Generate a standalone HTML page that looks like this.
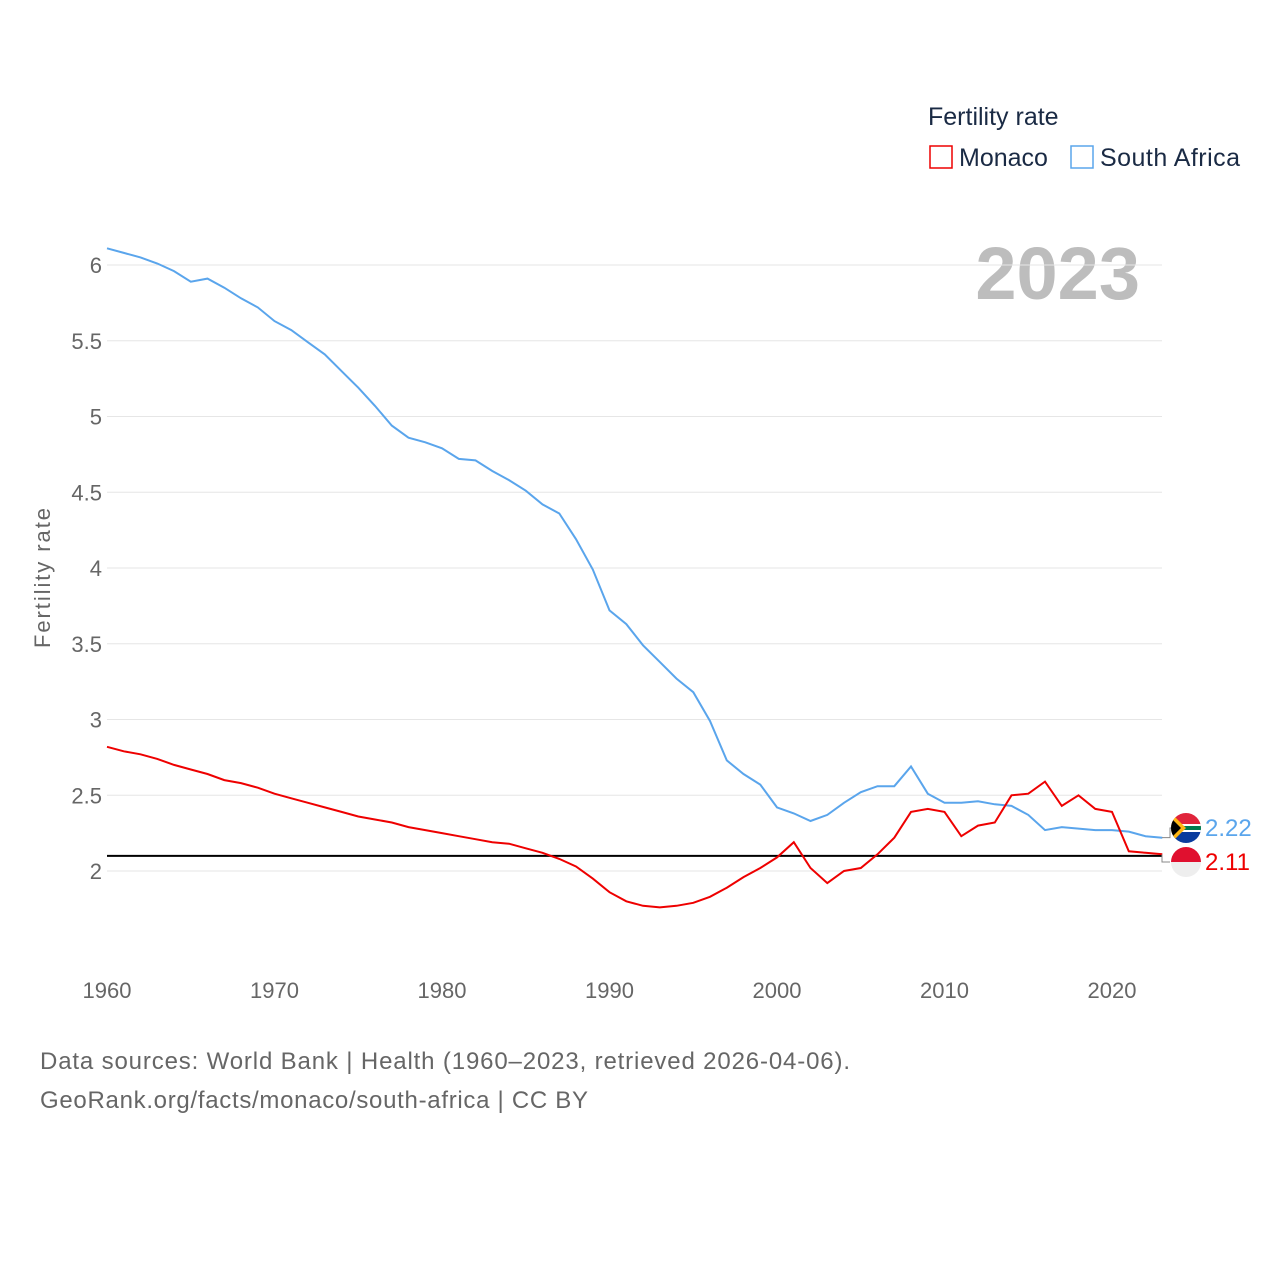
<!DOCTYPE html>
<html><head><meta charset="utf-8"><style>
body{margin:0;background:#fff;font-family:"Liberation Sans",sans-serif;}
svg text{font-family:"Liberation Sans",sans-serif;}
</style></head><body>
<svg id="chart" width="1280" height="1280" xmlns="http://www.w3.org/2000/svg">
<text x="928" y="125" font-size="25" fill="#1a2a44">Fertility rate</text>
<g><rect x="930" y="146" width="22" height="22" fill="none" stroke="#e00" stroke-width="1.5"/><text x="959" y="166" font-size="25" fill="#1a2a44">Monaco</text></g>
<g><rect x="1071" y="146" width="22" height="22" fill="none" stroke="#5aa5ec" stroke-width="1.5"/><text x="1100" y="166" font-size="25" fill="#1a2a44" textLength="140">South Africa</text></g>
<text x="1140" y="299" text-anchor="end" font-size="74" font-weight="bold" fill="#bdbdbd">2023</text>
<g id="grid"></g><g id="series"></g>
<text transform="translate(50,578) rotate(-90)" text-anchor="middle" font-size="22" fill="#666" textLength="140">Fertility rate</text>
<text x="40" y="1069" font-size="24" fill="#666" textLength="810">Data sources: World Bank | Health (1960–2023, retrieved 2026-04-06).</text>
<text x="40" y="1108" font-size="24" fill="#666" textLength="548">GeoRank.org/facts/monaco/south-africa | CC BY</text>
</svg>
<script>
const years=[];for(let y=1960;y<=2023;y++)years.push(y);
const southAfrica=[6.11,6.08,6.05,6.01,5.96,5.89,5.91,5.85,5.78,5.72,5.63,5.57,5.49,5.41,5.30,5.19,5.07,4.94,4.86,4.83,4.79,4.72,4.71,4.64,4.58,4.51,4.42,4.36,4.19,3.99,3.72,3.63,3.49,3.38,3.27,3.18,2.99,2.73,2.64,2.57,2.42,2.38,2.33,2.37,2.45,2.52,2.56,2.56,2.69,2.51,2.45,2.45,2.46,2.44,2.43,2.37,2.27,2.29,2.28,2.27,2.27,2.26,2.23,2.22];
const monaco=[2.82,2.79,2.77,2.74,2.70,2.67,2.64,2.60,2.58,2.55,2.51,2.48,2.45,2.42,2.39,2.36,2.34,2.32,2.29,2.27,2.25,2.23,2.21,2.19,2.18,2.15,2.12,2.08,2.03,1.95,1.86,1.80,1.77,1.76,1.77,1.79,1.83,1.89,1.96,2.02,2.09,2.19,2.02,1.92,2.00,2.02,2.11,2.22,2.39,2.41,2.39,2.23,2.30,2.32,2.50,2.51,2.59,2.43,2.50,2.41,2.39,2.13,2.12,2.11];
const yTicks=[2,2.5,3,3.5,4,4.5,5,5.5,6];
const xTicks=[1960,1970,1980,1990,2000,2010,2020];
const refLine=2.1;
const NS="http://www.w3.org/2000/svg";
const X=y=>107+(y-1960)*(1005/60);
const Y=v=>871-(v-2)*151.5;
function mk(t,a,p){const e=document.createElementNS(NS,t);for(const k in a)e.setAttribute(k,a[k]);p.appendChild(e);return e;}
const grid=document.getElementById('grid'),ser=document.getElementById('series');
yTicks.forEach(v=>{
 const l=mk('line',{x1:107,x2:1162,y1:Y(v),y2:Y(v),stroke:'#e6e6e6','stroke-width':1},grid);
 
 
 const t=mk('text',{x:102,y:Y(v)+8,'text-anchor':'end','font-size':22,fill:'#666'},grid);t.textContent=v;
 
 
});
xTicks.forEach(v=>{
 const t=mk('text',{x:X(v),y:998,'text-anchor':'middle','font-size':22,fill:'#666'},grid);t.textContent=v;
 
 
});
const r=mk('line',{x1:107,x2:1162,y1:Y(refLine),y2:Y(refLine),stroke:'#000','stroke-width':2},ser);


function line(d,c,n){
 const p=mk('path',{d:d.map((v,i)=>(i?'L':'M')+X(years[i]).toFixed(1)+','+Y(v).toFixed(1)).join(''),fill:'none',stroke:c,'stroke-width':2},ser);
 
 
}
line(southAfrica,'#5aa5ec','south-africa-line');
line(monaco,'#e00','monaco-line');
const lastSA=southAfrica[southAfrica.length-1],lastMC=monaco[monaco.length-1];
const saY=828,mcY=862;
mk('path',{d:`M1162,${Y(lastSA)}h8V${saY}h4`,stroke:'#888',fill:'none'},ser);
mk('path',{d:`M1162,${Y(lastMC)}h0V${mcY}h8`,stroke:'#888',fill:'none'},ser);
const g1=mk('g',{},ser);


const cp=mk('clipPath',{id:'c1'},g1);
mk('circle',{cx:1186,cy:saY,r:15},cp);
const f1=mk('g',{'clip-path':'url(#c1)'},g1);
mk('rect',{x:1171,y:saY-15,width:30,height:15,fill:'#e0243b'},f1);
mk('rect',{x:1171,y:saY,width:30,height:15,fill:'#0a3c9e'},f1);
mk('rect',{x:1171,y:saY-4,width:30,height:8,fill:'#fff'},f1);
mk('rect',{x:1171,y:saY-2,width:30,height:4,fill:'#007a4d'},f1);
mk('polygon',{points:`1171,${saY-15} 1186,${saY} 1171,${saY+15}`,fill:'#ffb612'},f1);
mk('polygon',{points:`1171,${saY-10} 1181,${saY} 1171,${saY+10}`,fill:'#000'},f1);
const g2=mk('g',{},ser);


mk('path',{d:`M1171,${mcY}a15,15 0 0 1 30,0z`,fill:'#e0102f'},g2);
mk('path',{d:`M1171,${mcY}a15,15 0 0 0 30,0z`,fill:'#eee'},g2);
const t1=mk('text',{x:1205,y:saY+8,'font-size':24,fill:'#5aa5ec'},ser);t1.textContent=lastSA.toFixed(2);


const t2=mk('text',{x:1205,y:mcY+8,'font-size':24,fill:'#e00'},ser);t2.textContent=lastMC.toFixed(2);


</script>
</body></html>
